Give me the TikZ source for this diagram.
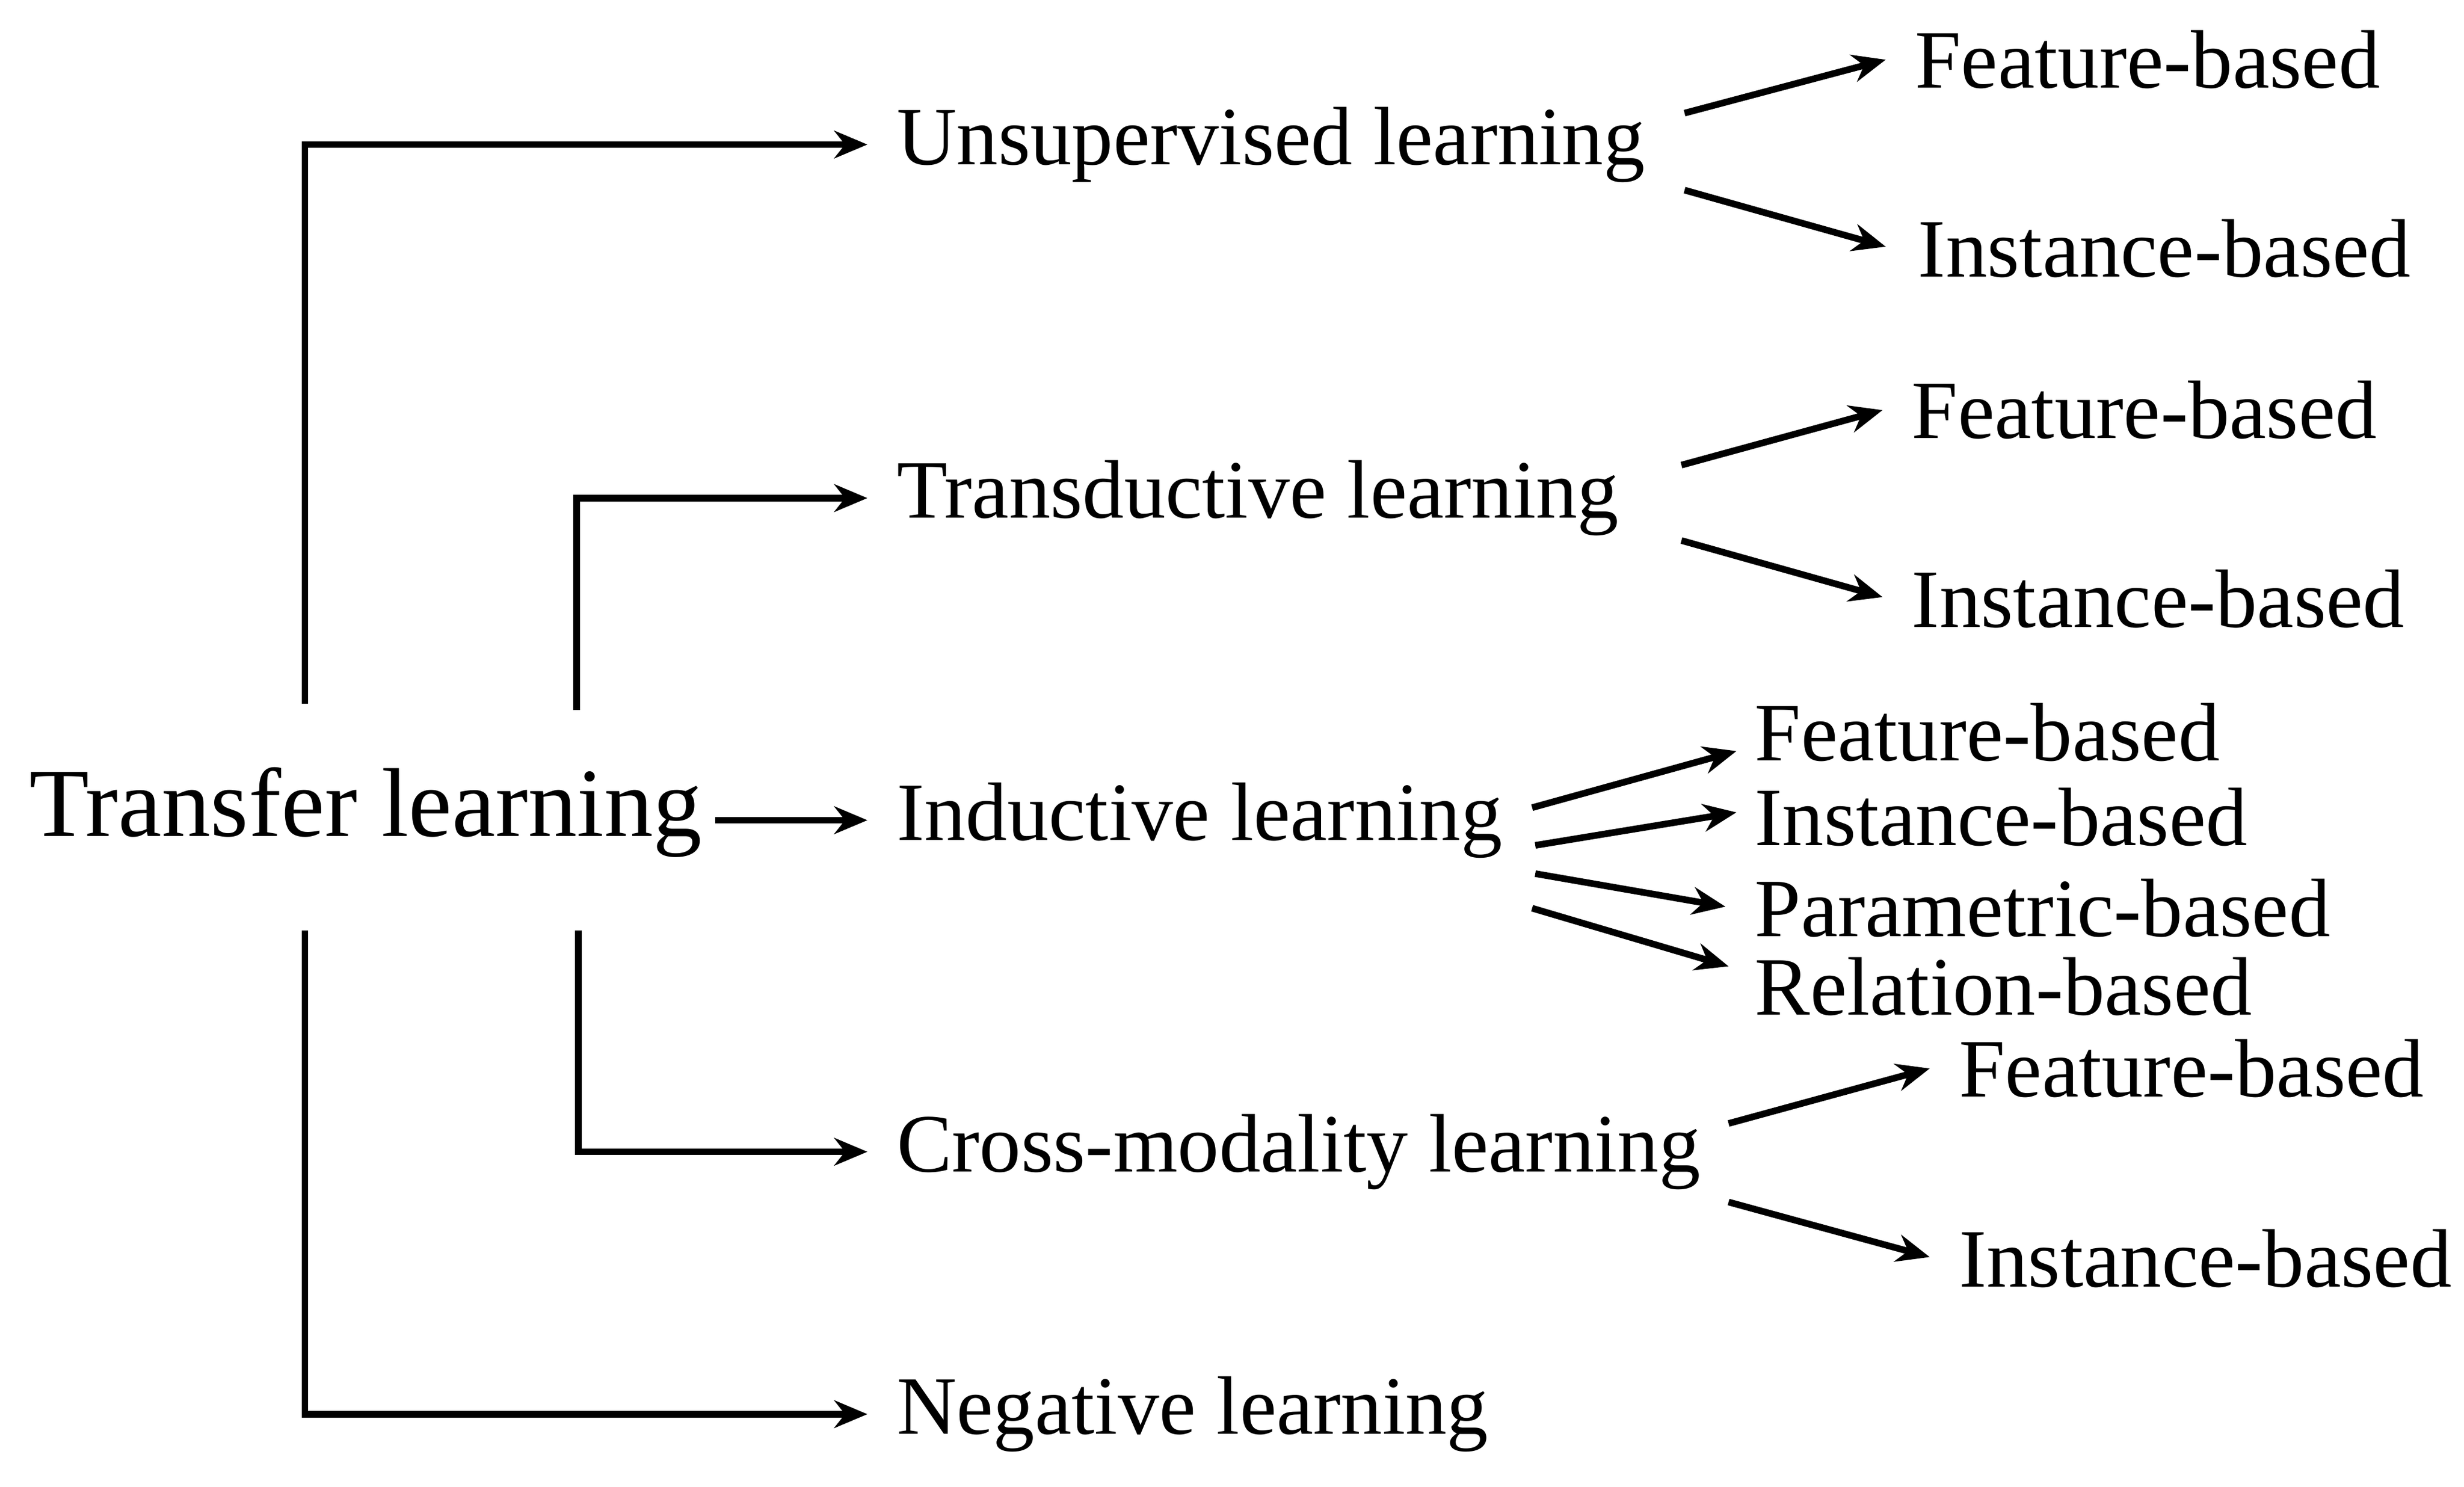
\documentclass[tikz,border=0pt]{standalone}
\usepackage{fontspec}
\setmainfont{Liberation Serif}
\usetikzlibrary{arrows.meta}
\begin{document}
\begin{tikzpicture}[x=0.01cm,y=-0.01cm,
 lbl/.style={anchor=west,inner sep=0pt,font=\fontsize{15}{18}\selectfont},
 big/.style={anchor=west,inner sep=0pt,font=\fontsize{17.7}{21}\selectfont},
 ln/.style={line width=1.2pt},
 ar/.style={line width=1.2pt,-{Stealth[length=6pt,width=5pt]}}]
\useasboundingbox (0,0) rectangle (1568,946);
\node[big] (tl) at (18,517) {Transfer learning};
\node[lbl] (u) at (570,92) {Unsupervised learning};
\node[lbl] (t) at (570,317) {Transductive learning};
\node[lbl] (i) at (570,522) {Inductive learning};
\node[lbl] (c) at (570,733) {Cross-modality learning};
\node[lbl] (n) at (570,900) {Negative learning};
\node[lbl] (uf) at (1218,38) {Feature-based};
\node[lbl] (ui) at (1220,158) {Instance-based};
\node[lbl] (tf) at (1216,261) {Feature-based};
\node[lbl] (ti) at (1216,381) {Instance-based};
\node[lbl] (if) at (1116,466) {Feature-based};
\node[lbl] (ii) at (1116,520) {Instance-based};
\node[lbl] (ip) at (1116,578) {Parametric-based};
\node[lbl] (ir) at (1116,628) {Relation-based};
\node[lbl] (cf) at (1246,680) {Feature-based};
\node[lbl] (ci) at (1246,801) {Instance-based};
% coordinates
\coordinate (a1) at (194,448); \coordinate (a2) at (194,92); \coordinate (a3) at (552,92);
\coordinate (b1) at (194,592); \coordinate (b2) at (194,900); \coordinate (b3) at (552,900);
\coordinate (c1) at (367,452); \coordinate (c2) at (367,317); \coordinate (c3) at (552,317);
\coordinate (d1) at (368,592); \coordinate (d2) at (368,733); \coordinate (d3) at (552,733);
\coordinate (e1) at (455,522); \coordinate (e2) at (552,522);
\draw[ar] (a1)--(a2)--(a3);
\draw[ar] (b1)--(b2)--(b3);
\draw[ar] (c1)--(c2)--(c3);
\draw[ar] (d1)--(d2)--(d3);
\draw[ar] (e1)--(e2);
\coordinate (s1) at (1072,72); \coordinate (s2) at (1200,38);
\coordinate (s3) at (1072,121); \coordinate (s4) at (1200,157);
\coordinate (s5) at (1070,296); \coordinate (s6) at (1198,261);
\coordinate (s7) at (1070,344); \coordinate (s8) at (1198,380);
\coordinate (s9) at (975,514); \coordinate (s10) at (1105,478);
\coordinate (s11) at (977,538); \coordinate (s12) at (1105,517);
\coordinate (s13) at (977,556); \coordinate (s14) at (1098,577);
\coordinate (s15) at (975,578); \coordinate (s16) at (1100,615);
\coordinate (s17) at (1100,715); \coordinate (s18) at (1228,680);
\coordinate (s19) at (1100,765); \coordinate (s20) at (1228,800);
\foreach \p/\q in {s1/s2,s3/s4,s5/s6,s7/s8,s9/s10,s11/s12,s13/s14,s15/s16,s17/s18,s19/s20}
  \draw[ar] (\p)--(\q);
\end{tikzpicture}
\end{document}
